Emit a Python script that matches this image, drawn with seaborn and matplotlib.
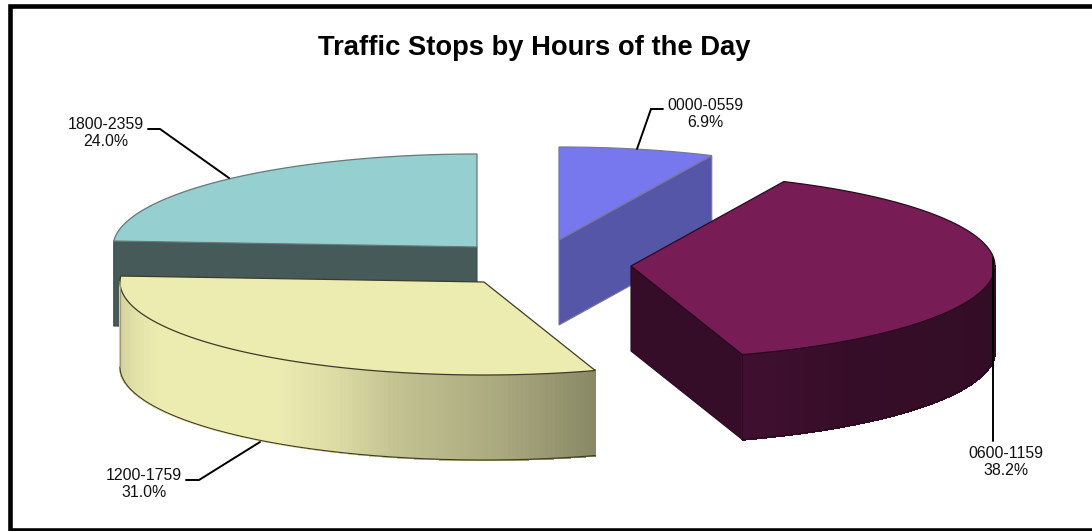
import numpy as np
import seaborn as sns
import matplotlib.pyplot as plt
from matplotlib.patches import Polygon, Rectangle

sns.set_theme(style='white')
plt.rcParams['font.family'] = ['Liberation Sans', 'DejaVu Sans']

# Slices, clockwise from 12 o'clock
hours = ['0000-0559', '0600-1159', '1200-1759', '1800-2359']
share = [6.9, 38.2, 31.0, 24.0]

top_colors = sns.color_palette(['#7878ee', '#771c55', '#ecebb0', '#95cfcf'])
side_colors = sns.color_palette(['#5656a8', '#360d28', '#ecebb0', '#465a5a'])
edge_colors = ['#77779a', '#2a0a20', '#3c3c28', '#667878']

# apex of each exploded slice on the canvas
apex_x = [559, 631, 484, 477]
apex_y = [240, 266, 282, 247]
label_x = [705, 1006, 144, 106]
label_y = [114, 462, 484, 133]
leaders = [
    [(637, 149), (651, 109), (663, 109)],
    [(993, 258), (993, 441)],
    [(260, 442), (199, 480), (186, 480)],
    [(229, 178), (160, 129), (148, 129)],
]

RX, RY, DEPTH = 364, 93, 85
draw_order = [3, 0, 1, 2]

# side shading follows x across the rim
shade_x = {2: [120, 135, 160, 280, 340, 400, 500, 596], 1: [745, 850, 995]}
shade_k = {2: [0.90, 0.96, 1.0, 1.0, 0.93, 0.82, 0.72, 0.58], 1: [1.2, 1.0, 0.95]}


def rim(i, a0, a1, n=120):
    t = np.radians(np.linspace(a0, a1, n))
    return apex_x[i] + RX * np.sin(t), apex_y[i] - RY * np.cos(t)


def draw_slice(ax, i, a0, a1):
    x, y = rim(i, a0, a1)
    edge = edge_colors[i]
    side = np.array(side_colors[i])

    # flat cut faces that look towards the viewer
    if i in (0, 1):
        face = [(apex_x[i], apex_y[i]), (x[-1], y[-1]), (x[-1], y[-1] + DEPTH), (apex_x[i], apex_y[i] + DEPTH)]
        ax.add_patch(Polygon(face, fc=side, ec=edge, lw=0.8))
    if i == 3:
        face = [(x[0], y[0]), (apex_x[i], apex_y[i]), (apex_x[i], apex_y[i] + DEPTH), (x[0], y[0] + DEPTH)]
        ax.add_patch(Polygon(face, fc=side, ec='#3a4a4a', lw=0.8))

    # outer rim, only the part facing front
    if i in (1, 2):
        lo, hi = (a0, 270) if i == 2 else (90, a1)
        rx, ry = rim(i, lo, hi, 160)
        for j in range(len(rx) - 1):
            k = np.interp(rx[j], shade_x[i], shade_k[i])
            col = np.clip(side * k, 0, 1)
            quad = [(rx[j], ry[j]), (rx[j + 1], ry[j + 1]), (rx[j + 1], ry[j + 1] + DEPTH), (rx[j], ry[j] + DEPTH)]
            ax.add_patch(Polygon(quad, fc=col, ec=col, lw=1.0, antialiased=False))
        ax.plot(rx, ry + DEPTH, color=edge, lw=0.8)
        ax.plot([rx[-1], rx[-1]], [ry[-1], ry[-1] + DEPTH], color='#999977' if i == 2 else edge, lw=0.8)

    # top surface
    pts = np.column_stack([np.r_[apex_x[i], x], np.r_[apex_y[i], y]])
    ax.add_patch(Polygon(pts, closed=True, fc=top_colors[i], ec=edge, lw=0.9, joinstyle='miter'))


fig = plt.figure(figsize=(10.92, 5.31), dpi=100)
ax = fig.add_axes([0, 0, 1, 1])
ax.set_xlim(0, 1092)
ax.set_ylim(531, 0)
ax.axis('off')

# chart frame, right side runs off the image
ax.add_patch(Rectangle((9.5, 6), 1100, 524, fc='white', ec='black', lw=3.3))

ends = np.cumsum(share) / sum(share) * 360
starts = np.r_[0, ends[:-1]]
for i in draw_order:
    draw_slice(ax, i, starts[i], ends[i])

for i, pts in enumerate(leaders):
    xs, ys = zip(*pts)
    ax.plot(xs, ys, color='black', lw=1.4, solid_joinstyle='miter')
    ax.text(label_x[i], label_y[i], f'{hours[i]}\n{share[i]:.1f}%', ha='center', va='center',
            fontsize=11.4, color='#111111', linespacing=1.14)

ax.text(534, 55, 'Traffic Stops by Hours of the Day', ha='center', va='baseline',
        fontsize=19.7, fontweight='bold', color='black')

plt.savefig('out.png', dpi=100)
